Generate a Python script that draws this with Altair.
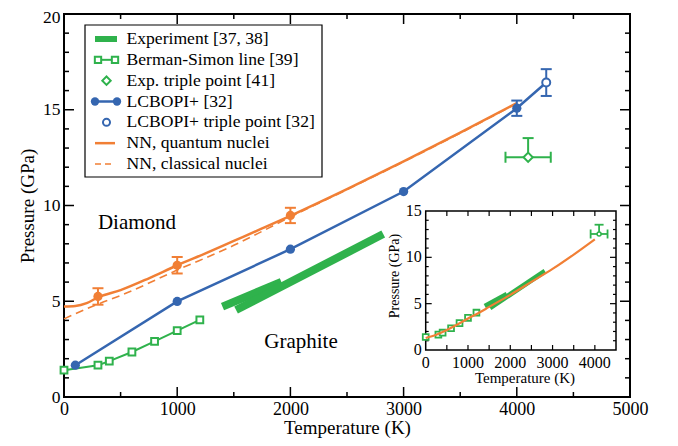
import altair as alt
import pandas as pd

# ---------------- data ----------------
exp_seg = ["a", "a", "b", "b"]
exp_T = [1400, 1920, 1520, 2820]
exp_P = [4.72, 6.01, 4.54, 8.51]

bs_T = [0, 300, 400, 600, 800, 1000, 1200]
bs_P = [1.40, 1.66, 1.87, 2.35, 2.90, 3.47, 4.03]

etp_T = [4100]
etp_P = [12.52]
etp_Terr = [200]
etp_Pup = [1.0]

lc_T = [100, 1000, 2000, 3000, 4000, 4260]
lc_P = [1.66, 4.99, 7.72, 10.73, 15.08, 16.42]
lc_pts_T = [100, 1000, 2000, 3000, 4000]
lc_pts_P = [1.66, 4.99, 7.72, 10.73, 15.08]
lc_err_T = [4000, 4260]
lc_err_P = [15.08, 16.42]
lc_err = [0.4, 0.7]
lctp_T = [4260]
lctp_P = [16.42]

nnq_T = [0, 100, 200, 300, 500, 750, 1000, 1250, 1500, 1750, 2000, 2500, 3000, 3500, 4000]
nnq_P = [4.72, 4.75, 4.90, 5.20, 5.58, 6.20, 6.88, 7.50, 8.15, 8.80, 9.46, 10.85, 12.30, 13.80, 15.35]
nnc_T = [0, 300, 500, 1000, 1500, 1750, 2000, 2500, 3000, 3500, 4000]
nnc_P = [4.08, 4.85, 5.30, 6.63, 7.92, 8.65, 9.40, 10.83, 12.28, 13.78, 15.33]
nnp_T = [300, 1000, 2000]
nnp_P = [5.25, 6.88, 9.48]
nnp_err = [0.43, 0.43, 0.40]

region_labels = ["Diamond", "Graphite"]
region_T = [645, 2094]
region_P = [9.07, 2.85]

# inset
ins_T = [0, 250, 500, 750, 1000, 1250, 1500, 2000, 2500, 3000, 3500, 4000]
ins_P = [1.30, 1.65, 2.15, 2.75, 3.40, 4.00, 4.65, 5.95, 7.35, 8.75, 10.30, 11.95]

legend_labels = ["Experiment [37, 38]", "Berman-Simon line [39]", "Exp. triple point [41]",
                 "LCBOPI+ [32]", "LCBOPI+ triple point [32]", "NN, quantum nuclei",
                 "NN, classical nuclei"]

x_major = [1000, 2000, 3000, 4000]
x_minor = [500, 1500, 2500, 3500, 4500]
y_major = [5, 10, 15]
y_minor = [1, 2, 3, 4, 6, 7, 8, 9, 11, 12, 13, 14, 16, 17, 18, 19]
x_labels = [0, 1000, 2000, 3000, 4000, 5000]
y_labels = [0, 5, 10, 15, 20]

ix_ticks = [500, 1000, 1500, 2000, 2500, 3000, 3500, 4000]
ix_labels = [0, 1000, 2000, 3000, 4000]
iy_major = [5, 10]
iy_minor = [1, 2, 3, 4, 6, 7, 8, 9, 11, 12, 13, 14]
iy_labels = [0, 5, 10, 15]

# ---------------- styles ----------------
GREEN = "#2fb24c"
BLUE = "#3566b0"
ORANGE = "#f17f35"
SERIF = "Liberation Serif"
W, H = 566, 383

XS = alt.Scale(domain=[0, 5000], nice=False, zero=False)
YS = alt.Scale(domain=[0, 20], nice=False, zero=False)
IX0, IX1, IYB, IYT = 361.7, 552, 336, 197
IXS = alt.Scale(domain=[0, 4500], range=[IX0, IX1], nice=False, zero=False)
IYS = alt.Scale(domain=[0, 15], range=[IYB, IYT], nice=False, zero=False)
LY = alt.Scale(domain=[0, 6], range=[25, 150], nice=False, zero=False)


def X(f):
    return alt.X(f"{f}:Q", scale=XS, axis=None)


def Y(f):
    return alt.Y(f"{f}:Q", scale=YS, axis=None)


def IX(f):
    return alt.X(f"{f}:Q", scale=IXS, axis=None)


def IY(f):
    return alt.Y(f"{f}:Q", scale=IYS, axis=None)


df_exp = pd.DataFrame({"seg": exp_seg, "T": exp_T, "P": exp_P})
df_bs = pd.DataFrame({"T": bs_T, "P": bs_P})
df_etp = pd.DataFrame({"T": etp_T, "P": etp_P,
                       "Tlo": [t - e for t, e in zip(etp_T, etp_Terr)],
                       "Thi": [t + e for t, e in zip(etp_T, etp_Terr)],
                       "Phi": [p + e for p, e in zip(etp_P, etp_Pup)]})
df_lc = pd.DataFrame({"T": lc_T, "P": lc_P})
df_lcp = pd.DataFrame({"T": lc_pts_T, "P": lc_pts_P})
df_lce = pd.DataFrame({"T": lc_err_T, "lo": [p - e for p, e in zip(lc_err_P, lc_err)],
                       "hi": [p + e for p, e in zip(lc_err_P, lc_err)]})
df_lcc = pd.DataFrame({"T": lc_err_T * 2, "P": list(df_lce["lo"]) + list(df_lce["hi"])})
df_lctp = pd.DataFrame({"T": lctp_T, "P": lctp_P})
df_nnq = pd.DataFrame({"T": nnq_T, "P": nnq_P})
df_nnc = pd.DataFrame({"T": nnc_T, "P": nnc_P})
df_nnp = pd.DataFrame({"T": nnp_T, "P": nnp_P,
                       "lo": [p - e for p, e in zip(nnp_P, nnp_err)],
                       "hi": [p + e for p, e in zip(nnp_P, nnp_err)]})
df_nnc2 = pd.DataFrame({"T": nnp_T * 2, "P": list(df_nnp["lo"]) + list(df_nnp["hi"])})
df_reg = pd.DataFrame({"label": region_labels, "T": region_T, "P": region_P})
df_ins = pd.DataFrame({"T": ins_T, "P": ins_P})
df_leg = pd.DataFrame({"label": legend_labels, "row": list(range(len(legend_labels)))})

layers = []

# axis labels layer (main)
layers.append(alt.Chart(df_bs).mark_point(opacity=0).encode(
    x=alt.X("T:Q", scale=XS, axis=alt.Axis(
        values=x_labels, ticks=False, domain=False, grid=False, labelFont=SERIF,
        labelFontSize=18, labelColor="black", labelPadding=3, labelFlush=False,
        labelOverlap=False, format="d", title="Temperature (K)", titleFont=SERIF,
        titleFontSize=19, titleFontWeight="normal", titleColor="black", titlePadding=0)),
    y=alt.Y("P:Q", scale=YS, axis=alt.Axis(
        values=y_labels, ticks=False, domain=False, grid=False, labelFont=SERIF,
        labelFontSize=17.5, labelColor="black", labelPadding=4, labelOverlap=False,
        labelOffset={"condition": {"test": "datum.value == 20", "value": 3}, "value": 0},
        title="Pressure (GPa)", titleFont=SERIF, titleFontSize=19,
        titleFontWeight="normal", titleColor="black", titlePadding=5)),
))


# main frame ticks (inward)
def xticks(vals, length):
    d = pd.DataFrame({"v": vals})
    b = alt.Chart(d).mark_rule(color="black", strokeWidth=1.5).encode(
        x=X("v"), y=alt.value(H), y2=alt.value(H - length))
    t = alt.Chart(d).mark_rule(color="black", strokeWidth=1.5).encode(
        x=X("v"), y=alt.value(0), y2=alt.value(length))
    return [b, t]


def yticks(vals, length):
    d = pd.DataFrame({"v": vals})
    l = alt.Chart(d).mark_rule(color="black", strokeWidth=1.5).encode(
        y=Y("v"), x=alt.value(0), x2=alt.value(length))
    r = alt.Chart(d).mark_rule(color="black", strokeWidth=1.5).encode(
        y=Y("v"), x=alt.value(W), x2=alt.value(W - length))
    return [l, r]


layers += xticks(x_major, 10) + xticks(x_minor, 5) + yticks(y_major, 10) + yticks(y_minor, 5)

# experiment segments
layers.append(alt.Chart(df_exp).mark_line(color=GREEN, strokeWidth=8, strokeCap="butt").encode(
    x=X("T"), y=Y("P"), detail="seg:N"))

# Berman-Simon
layers.append(alt.Chart(df_bs).mark_line(color=GREEN, strokeWidth=2).encode(x=X("T"), y=Y("P")))
layers.append(alt.Chart(df_bs).mark_point(shape="square", size=46, filled=True, fill="white",
                                          stroke=GREEN, strokeWidth=2, opacity=1).encode(
    x=X("T"), y=Y("P")))

# NN lines
layers.append(alt.Chart(df_nnc).mark_line(color=ORANGE, strokeWidth=1.6, strokeDash=[8, 5],
                                          interpolate="monotone").encode(x=X("T"), y=Y("P")))
layers.append(alt.Chart(df_nnq).mark_line(color=ORANGE, strokeWidth=2.5,
                                          interpolate="monotone").encode(x=X("T"), y=Y("P")))
# NN points with error bars
layers.append(alt.Chart(df_nnp).mark_rule(color=ORANGE, strokeWidth=2).encode(
    x=X("T"), y=Y("lo"), y2="hi:Q"))
layers.append(alt.Chart(df_nnc2).mark_tick(orient="horizontal", color=ORANGE, size=11,
                                           thickness=2, opacity=1).encode(x=X("T"), y=Y("P")))
layers.append(alt.Chart(df_nnp).mark_circle(color=ORANGE, size=85, opacity=1).encode(
    x=X("T"), y=Y("P")))

# LCBOPI+
layers.append(alt.Chart(df_lc).mark_line(color=BLUE, strokeWidth=2.5).encode(x=X("T"), y=Y("P")))
layers.append(alt.Chart(df_lce).mark_rule(color=BLUE, strokeWidth=2).encode(
    x=X("T"), y=Y("lo"), y2="hi:Q"))
layers.append(alt.Chart(df_lcc).mark_tick(orient="horizontal", color=BLUE, size=11,
                                          thickness=2, opacity=1).encode(x=X("T"), y=Y("P")))
layers.append(alt.Chart(df_lcp).mark_circle(color=BLUE, size=85, opacity=1).encode(
    x=X("T"), y=Y("P")))
layers.append(alt.Chart(df_lctp).mark_point(shape="circle", size=64, filled=True, fill="white",
                                            stroke=BLUE, strokeWidth=2, opacity=1).encode(
    x=X("T"), y=Y("P")))

# Exp triple point
layers.append(alt.Chart(df_etp).mark_rule(color=GREEN, strokeWidth=2).encode(
    x=X("Tlo"), x2="Thi:Q", y=Y("P")))
layers.append(alt.Chart(df_etp).mark_rule(color=GREEN, strokeWidth=2).encode(
    x=X("T"), y=Y("P"), y2="Phi:Q"))
layers.append(alt.Chart(df_etp).mark_tick(orient="vertical", color=GREEN, size=11,
                                          thickness=2, opacity=1).encode(x=X("Tlo"), y=Y("P")))
layers.append(alt.Chart(df_etp).mark_tick(orient="vertical", color=GREEN, size=11,
                                          thickness=2, opacity=1).encode(x=X("Thi"), y=Y("P")))
layers.append(alt.Chart(df_etp).mark_tick(orient="horizontal", color=GREEN, size=11,
                                          thickness=2, opacity=1).encode(x=X("T"), y=Y("Phi")))
layers.append(alt.Chart(df_etp).mark_point(shape="diamond", size=85, filled=True, fill="white",
                                           stroke=GREEN, strokeWidth=2, opacity=1).encode(
    x=X("T"), y=Y("P")))

# region labels
layers.append(alt.Chart(df_reg).mark_text(font=SERIF, fontSize=21, color="black").encode(
    x=X("T"), y=Y("P"), text="label:N"))

# ---------------- legend ----------------
LX0, LX1, LT, LB = 21, 258, 11, 163
layers.append(alt.Chart(df_leg).transform_filter(alt.datum.row == 0).mark_rect(
    fill="white", stroke="black", strokeWidth=1.2).encode(
    x=alt.value(LX0), x2=alt.value(LX1), y=alt.value(LT), y2=alt.value(LB)))


def LYf():
    return alt.Y("row:Q", scale=LY, axis=None)


def leg(row):
    return alt.Chart(df_leg).transform_filter(alt.datum.row == row)


layers.append(leg(0).mark_rule(color=GREEN, strokeWidth=6).encode(
    x=alt.value(31), x2=alt.value(53), y=LYf()))
layers.append(leg(1).mark_rule(color=GREEN, strokeWidth=2).encode(
    x=alt.value(34), x2=alt.value(51), y=LYf()))
for xp in (34, 51):
    layers.append(leg(1).mark_point(shape="square", size=40, filled=True, fill="white",
                                    stroke=GREEN, strokeWidth=2, opacity=1).encode(
        x=alt.value(xp), y=LYf()))
layers.append(leg(2).mark_point(shape="diamond", size=70, filled=True, fill="white",
                                stroke=GREEN, strokeWidth=2, opacity=1).encode(
    x=alt.value(42.5), y=LYf()))
layers.append(leg(3).mark_rule(color=BLUE, strokeWidth=2.5).encode(
    x=alt.value(31), x2=alt.value(53), y=LYf()))
for xp in (31, 53):
    layers.append(leg(3).mark_circle(color=BLUE, size=70, opacity=1).encode(
        x=alt.value(xp), y=LYf()))
layers.append(leg(4).mark_point(shape="circle", size=50, filled=True, fill="white",
                                stroke=BLUE, strokeWidth=2, opacity=1).encode(
    x=alt.value(42.5), y=LYf()))
layers.append(leg(5).mark_rule(color=ORANGE, strokeWidth=2.5).encode(
    x=alt.value(31), x2=alt.value(51), y=LYf()))
layers.append(leg(6).mark_rule(color=ORANGE, strokeWidth=1.6, strokeDash=[6, 4]).encode(
    x=alt.value(31), x2=alt.value(51), y=LYf()))
layers.append(alt.Chart(df_leg).mark_text(font=SERIF, fontSize=17.6, color="black", align="left",
                                          baseline="middle").encode(
    x=alt.value(62.5), y=LYf(), text="label:N"))

# ---------------- inset ----------------
layers.append(alt.Chart(df_leg).transform_filter(alt.datum.row == 0).mark_rect(
    fill="white", stroke="black", strokeWidth=1.5).encode(
    x=alt.value(IX0), x2=alt.value(IX1), y=alt.value(IYT), y2=alt.value(IYB)))

d_ixt = pd.DataFrame({"v": ix_ticks})
layers.append(alt.Chart(d_ixt).mark_rule(color="black", strokeWidth=1.2).encode(
    x=IX("v"), y=alt.value(IYB), y2=alt.value(IYB - 5)))
layers.append(alt.Chart(d_ixt).mark_rule(color="black", strokeWidth=1.2).encode(
    x=IX("v"), y=alt.value(IYT), y2=alt.value(IYT + 5)))
for vals, ln in ((iy_major, 6), (iy_minor, 3)):
    d = pd.DataFrame({"v": vals})
    layers.append(alt.Chart(d).mark_rule(color="black", strokeWidth=1.2).encode(
        y=IY("v"), x=alt.value(IX0), x2=alt.value(IX0 + ln)))
    layers.append(alt.Chart(d).mark_rule(color="black", strokeWidth=1.2).encode(
        y=IY("v"), x=alt.value(IX1), x2=alt.value(IX1 - ln)))

layers.append(alt.Chart(df_exp).mark_line(color=GREEN, strokeWidth=5, strokeCap="butt").encode(
    x=IX("T"), y=IY("P"), detail="seg:N"))
layers.append(alt.Chart(df_bs).mark_point(shape="square", size=34, filled=True, fill="white",
                                          stroke=GREEN, strokeWidth=1.8, opacity=1).encode(
    x=IX("T"), y=IY("P")))
layers.append(alt.Chart(df_ins).mark_line(color=ORANGE, strokeWidth=2.2,
                                          interpolate="monotone").encode(x=IX("T"), y=IY("P")))
layers.append(alt.Chart(df_etp).mark_rule(color=GREEN, strokeWidth=1.8).encode(
    x=IX("Tlo"), x2="Thi:Q", y=IY("P")))
layers.append(alt.Chart(df_etp).mark_rule(color=GREEN, strokeWidth=1.8).encode(
    x=IX("T"), y=IY("P"), y2="Phi:Q"))
for f in ("Tlo", "Thi"):
    layers.append(alt.Chart(df_etp).mark_tick(orient="vertical", color=GREEN, size=9,
                                              thickness=1.8, opacity=1).encode(x=IX(f), y=IY("P")))
layers.append(alt.Chart(df_etp).mark_tick(orient="horizontal", color=GREEN, size=9,
                                          thickness=1.8, opacity=1).encode(x=IX("T"), y=IY("Phi")))
layers.append(alt.Chart(df_etp).mark_point(shape="circle", size=16, filled=True, fill="white",
                                           stroke=GREEN, strokeWidth=1.5, opacity=1).encode(
    x=IX("T"), y=IY("P")))

d_ixl = pd.DataFrame({"v": ix_labels})
layers.append(alt.Chart(d_ixl).mark_text(font=SERIF, fontSize=16, color="black",
                                         baseline="middle").encode(
    x=IX("v"), y=alt.value(IYB + 13.3), text=alt.Text("v:Q", format="d")))
d_iyl = pd.DataFrame({"v": iy_labels})
layers.append(alt.Chart(d_iyl).mark_text(font=SERIF, fontSize=16, color="black", align="right",
                                         baseline="middle").encode(
    x=alt.value(IX0 - 4), y=IY("v"), text=alt.Text("v:Q", format="d")))
layers.append(alt.Chart(df_leg).transform_filter(alt.datum.row == 0).mark_text(
    font=SERIF, fontSize=15, color="black").encode(
    x=alt.value(461), y=alt.value(364.3), text=alt.value("Temperature (K)")))
layers.append(alt.Chart(df_leg).transform_filter(alt.datum.row == 0).mark_text(
    font=SERIF, fontSize=14, color="black", angle=270).encode(
    x=alt.value(331), y=alt.value(262), text=alt.value("Pressure (GPa)")))

chart = alt.layer(*layers).resolve_scale(x="independent", y="independent").properties(
    width=W, height=H, autosize="none",
    padding={"left": 56, "top": 6, "right": 40, "bottom": 41},
    background="white",
).configure_view(stroke="black", strokeWidth=2)

chart.save("out.html", embed_options={"renderer": "svg", "actions": False})
